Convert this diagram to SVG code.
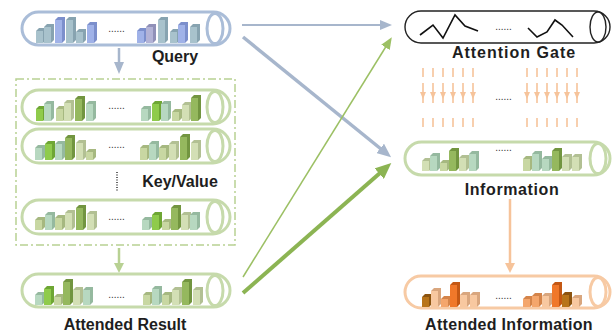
<svg xmlns="http://www.w3.org/2000/svg" xmlns:xlink="http://www.w3.org/1999/xlink" width="614" height="335" viewBox="0 0 614 335">
<defs>
<style>
.lbl{font-family:"Liberation Sans",Arial,sans-serif;font-weight:bold;font-size:16px;fill:#1e1e1e;text-anchor:middle}
.dots{font-family:"Liberation Sans",Arial,sans-serif;font-size:10px;fill:#333;text-anchor:middle}
.tb{fill:#fff;stroke:#aabdd8;stroke-width:3}
.tg{fill:#fff;stroke:#c6daab;stroke-width:3}
.to{fill:#fff;stroke:#f7caa4;stroke-width:3}
.tk{fill:#fff;stroke:#222;stroke-width:1.4}
.qt{fill:#a8c2cc}.qts{fill:#87a3b0}
.qp{fill:#a0b2e8}.qps{fill:#7c8fcc}
.ql{fill:#b3b3d6}.qls{fill:#9090b8}
.gb{fill:#8fcb4c}.gbs{fill:#6ea634}
.gt{fill:#b7d8c0}.gts{fill:#95b99f}
.gk{fill:#c8d7a2}.gks{fill:#a6b880}
.go{fill:#95b85e}.gos{fill:#729540}
.gp{fill:#d3dfb5}.gps{fill:#b2c093}
.ob{fill:#b8741a}.obs{fill:#8c5410}
.oo{fill:#f0782a}.oos{fill:#c45814}
.ol{fill:#f8c8a0}.ols{fill:#d9a67e}
.om{fill:#f4a66c}.oms{fill:#d4844a}
.zig{fill:none;stroke:#111;stroke-width:1.6;stroke-linejoin:miter}
.oa{stroke:#f6c39a;stroke-width:1.6;fill:none}
</style>
<marker id="mB" markerUnits="userSpaceOnUse" viewBox="0 0 12 10" markerWidth="12" markerHeight="10" refX="1" refY="5" orient="auto"><path d="M0,0 L12,5 L0,10 z" fill="#a7b6cc"/></marker>
<marker id="mBL" markerUnits="userSpaceOnUse" viewBox="0 0 14 12" markerWidth="14" markerHeight="12" refX="1" refY="6" orient="auto"><path d="M0,0 L14,6 L0,12 z" fill="#a7b6cc"/></marker>
<marker id="mG" markerUnits="userSpaceOnUse" viewBox="0 0 12 10" markerWidth="12" markerHeight="10" refX="1" refY="5" orient="auto"><path d="M0,0 L12,5 L0,10 z" fill="#9cc064"/></marker>
<marker id="mGL" markerUnits="userSpaceOnUse" viewBox="0 0 16 14" markerWidth="16" markerHeight="14" refX="1" refY="7" orient="auto"><path d="M0,0 L16,7 L0,14 z" fill="#8cb453"/></marker>
<marker id="mGV" markerUnits="userSpaceOnUse" viewBox="0 0 10 10" markerWidth="10" markerHeight="10" refX="1" refY="5" orient="auto"><path d="M0,0 L10,5 L0,10 z" fill="#b8d193"/></marker>
<marker id="mO" markerUnits="userSpaceOnUse" viewBox="0 0 10 10" markerWidth="10" markerHeight="10" refX="1" refY="5" orient="auto"><path d="M0,0 L10,5 L0,10 z" fill="#f6c39a"/></marker>
<g id="oarr">
<line class="oa" x1="0" y1="68" x2="0" y2="77"/>
<line class="oa" x1="0" y1="83" x2="0" y2="103"/>
<polygon points="-3,92 3,92 0,99" fill="#f6c39a"/>
<line class="oa" x1="0" y1="118" x2="0" y2="127"/>
</g>
</defs>
<rect width="614" height="335" fill="#fff"/>

<g id="connectors">
<line x1="242" y1="25" x2="381" y2="25" stroke="#a7b6cc" stroke-width="2" marker-end="url(#mB)"/>
<line x1="243" y1="37" x2="381" y2="149" stroke="#a7b6cc" stroke-width="3.5" marker-end="url(#mBL)"/>
<line x1="243" y1="277" x2="386" y2="46.5" stroke="#9cc064" stroke-width="1.5" marker-end="url(#mG)"/>
<line x1="243" y1="293" x2="380" y2="173" stroke="#8cb453" stroke-width="4" marker-end="url(#mGL)"/>
<line x1="119" y1="48" x2="119" y2="63" stroke="#a7b6cc" stroke-width="2.5" marker-end="url(#mB)"/>
<line x1="119" y1="248" x2="119" y2="264" stroke="#b8d193" stroke-width="2.5" marker-end="url(#mGV)"/>
<line x1="510" y1="199" x2="510" y2="264" stroke="#f6c39a" stroke-width="2.5" marker-end="url(#mO)"/>
</g>

<g id="query">
<rect class="tb" x="22" y="12" width="208" height="33" rx="16.5"/>
<ellipse class="tb" cx="215" cy="28.5" rx="8" ry="15"/>
<polygon class="qts" points="36,31 39,28 46,28 46,40 43,43"/><rect class="qt" x="36" y="31" width="7" height="12"/>
<polygon class="qts" points="44,27 47,24 54,24 54,40 51,43"/><rect class="qt" x="44" y="27" width="7" height="16"/>
<polygon class="qps" points="55,20 58,17 65,17 65,40 62,43"/><rect class="qp" x="55" y="20" width="7" height="23"/>
<polygon class="qts" points="66,20 69,17 76,17 76,40 73,43"/><rect class="qt" x="66" y="20" width="7" height="23"/>
<polygon class="qts" points="76,32 79,29 86,29 86,40 83,43"/><rect class="qt" x="76" y="32" width="7" height="11"/>
<polygon class="qps" points="87,25 90,22 97,22 97,40 94,43"/><rect class="qp" x="87" y="25" width="7" height="18"/>
<text class="dots" x="116.5" y="32">......</text>
<polygon class="qps" points="137,31 140,28 147,28 147,40 144,43"/><rect class="qp" x="137" y="31" width="7" height="12"/>
<polygon class="qls" points="146,27 149,24 156,24 156,40 153,43"/><rect class="ql" x="146" y="27" width="7" height="16"/>
<polygon class="qts" points="158,20 161,17 168,17 168,40 165,43"/><rect class="qt" x="158" y="20" width="7" height="23"/>
<polygon class="qts" points="170,32 173,29 180,29 180,40 177,43"/><rect class="qt" x="170" y="32" width="7" height="11"/>
<polygon class="qps" points="178,25 181,22 188,22 188,40 185,43"/><rect class="qp" x="178" y="25" width="7" height="18"/>
<polygon class="qts" points="190,27 193,24 200,24 200,40 197,43"/><rect class="qt" x="190" y="27" width="7" height="16"/>
<text class="lbl" x="175" y="62">Query</text>
</g>

<g id="keyvalue">
<rect x="16" y="79" width="219" height="166" fill="none" stroke="#b8d193" stroke-width="1.5" stroke-dasharray="8,3,2,3"/>
<rect class="tg" x="22" y="90" width="208" height="34" rx="17"/>
<ellipse class="tg" cx="215" cy="107" rx="8" ry="15.5"/>
<polygon class="gbs" points="36,109 39,106 46,106 46,118 43,121"/><rect class="gb" x="36" y="109" width="7" height="12"/>
<polygon class="gts" points="44,104 47,101 54,101 54,118 51,121"/><rect class="gt" x="44" y="104" width="7" height="17"/>
<polygon class="gks" points="56,109 59,106 66,106 66,118 63,121"/><rect class="gk" x="56" y="109" width="7" height="12"/>
<polygon class="gps" points="64,103 67,100 74,100 74,118 71,121"/><rect class="gp" x="64" y="103" width="7" height="18"/>
<polygon class="gos" points="75,99 78,96 85,96 85,118 82,121"/><rect class="go" x="75" y="99" width="7" height="22"/>
<polygon class="gts" points="86,104 89,101 96,101 96,118 93,121"/><rect class="gt" x="86" y="104" width="7" height="17"/>
<text class="dots" x="116.5" y="109">......</text>
<polygon class="gts" points="141,109 144,106 151,106 151,118 148,121"/><rect class="gt" x="141" y="109" width="7" height="12"/>
<polygon class="gbs" points="152,104 155,101 162,101 162,118 159,121"/><rect class="gb" x="152" y="104" width="7" height="17"/>
<polygon class="gts" points="161,104 164,101 171,101 171,118 168,121"/><rect class="gt" x="161" y="104" width="7" height="17"/>
<polygon class="gks" points="172,112 175,109 182,109 182,118 179,121"/><rect class="gk" x="172" y="112" width="7" height="9"/>
<polygon class="gps" points="182,105 185,102 192,102 192,118 189,121"/><rect class="gp" x="182" y="105" width="7" height="16"/>
<polygon class="gos" points="191,98 194,95 201,95 201,118 198,121"/><rect class="go" x="191" y="98" width="7" height="23"/>

<rect class="tg" x="22" y="129" width="208" height="34" rx="17"/>
<ellipse class="tg" cx="215" cy="146" rx="8" ry="15.5"/>
<polygon class="gts" points="35,148 38,145 45,145 45,157 42,160"/><rect class="gt" x="35" y="148" width="7" height="12"/>
<polygon class="gbs" points="45,144 48,141 55,141 55,157 52,160"/><rect class="gb" x="45" y="144" width="7" height="16"/>
<polygon class="gts" points="55,144 58,141 65,141 65,157 62,160"/><rect class="gt" x="55" y="144" width="7" height="16"/>
<polygon class="gos" points="65,138 68,135 75,135 75,157 72,160"/><rect class="go" x="65" y="138" width="7" height="22"/>
<polygon class="gps" points="76,143 79,140 86,140 86,157 83,160"/><rect class="gp" x="76" y="143" width="7" height="17"/>
<polygon class="gks" points="86,152 89,149 96,149 96,157 93,160"/><rect class="gk" x="86" y="152" width="7" height="8"/>
<text class="dots" x="116.5" y="148">......</text>
<polygon class="gks" points="140,148 143,145 150,145 150,157 147,160"/><rect class="gk" x="140" y="148" width="7" height="12"/>
<polygon class="gts" points="149,144 152,141 159,141 159,157 156,160"/><rect class="gt" x="149" y="144" width="7" height="16"/>
<polygon class="gks" points="159,148 162,145 169,145 169,157 166,160"/><rect class="gk" x="159" y="148" width="7" height="12"/>
<polygon class="gps" points="169,144 172,141 179,141 179,157 176,160"/><rect class="gp" x="169" y="144" width="7" height="16"/>
<polygon class="gos" points="180,137 183,134 190,134 190,157 187,160"/><rect class="go" x="180" y="137" width="7" height="23"/>
<polygon class="gps" points="191,143 194,140 201,140 201,157 198,160"/><rect class="gp" x="191" y="143" width="7" height="17"/>

<line x1="117" y1="172" x2="117" y2="192" stroke="#333" stroke-width="1.5" stroke-dasharray="1,1.5"/>
<text class="lbl" x="180" y="187">Key/Value</text>

<rect class="tg" x="22" y="200" width="208" height="34" rx="17"/>
<ellipse class="tg" cx="215" cy="217" rx="8" ry="15.5"/>
<polygon class="gks" points="35,220 38,217 45,217 45,227 42,230"/><rect class="gk" x="35" y="220" width="7" height="10"/>
<polygon class="gts" points="45,215 48,212 55,212 55,227 52,230"/><rect class="gt" x="45" y="215" width="7" height="15"/>
<polygon class="gks" points="55,218 58,215 65,215 65,227 62,230"/><rect class="gk" x="55" y="218" width="7" height="12"/>
<polygon class="gps" points="65,213 68,210 75,210 75,227 72,230"/><rect class="gp" x="65" y="213" width="7" height="17"/>
<polygon class="gos" points="76,208 79,205 86,205 86,227 83,230"/><rect class="go" x="76" y="208" width="7" height="22"/>
<polygon class="gps" points="87,214 90,211 97,211 97,227 94,230"/><rect class="gp" x="87" y="214" width="7" height="16"/>
<text class="dots" x="116.5" y="220">......</text>
<polygon class="gts" points="142,220 145,217 152,217 152,227 149,230"/><rect class="gt" x="142" y="220" width="7" height="10"/>
<polygon class="gbs" points="152,215 155,212 162,212 162,227 159,230"/><rect class="gb" x="152" y="215" width="7" height="15"/>
<polygon class="gks" points="162,222 165,219 172,219 172,227 169,230"/><rect class="gk" x="162" y="222" width="7" height="8"/>
<polygon class="gos" points="171,208 174,205 181,205 181,227 178,230"/><rect class="go" x="171" y="208" width="7" height="22"/>
<polygon class="gps" points="181,215 184,212 191,212 191,227 188,230"/><rect class="gp" x="181" y="215" width="7" height="15"/>
<polygon class="gts" points="190,215 193,212 200,212 200,227 197,230"/><rect class="gt" x="190" y="215" width="7" height="15"/>
</g>

<g id="attended-result">
<rect class="tg" x="22" y="274" width="208" height="33" rx="16.5"/>
<ellipse class="tg" cx="215" cy="290.5" rx="8" ry="15"/>
<polygon class="gts" points="35,295 38,292 45,292 45,302 42,305"/><rect class="gt" x="35" y="295" width="7" height="10"/>
<polygon class="gbs" points="44,289 47,286 54,286 54,302 51,305"/><rect class="gb" x="44" y="289" width="7" height="16"/>
<polygon class="gks" points="54,297 57,294 64,294 64,302 61,305"/><rect class="gk" x="54" y="297" width="7" height="8"/>
<polygon class="gos" points="63,282 66,279 73,279 73,302 70,305"/><rect class="go" x="63" y="282" width="7" height="23"/>
<polygon class="gps" points="73,290 76,287 83,287 83,302 80,305"/><rect class="gp" x="73" y="290" width="7" height="15"/>
<polygon class="gts" points="83,290 86,287 93,287 93,302 90,305"/><rect class="gt" x="83" y="290" width="7" height="15"/>
<text class="dots" x="116.5" y="298">......</text>
<polygon class="gks" points="143,295 146,292 153,292 153,302 150,305"/><rect class="gk" x="143" y="295" width="7" height="10"/>
<polygon class="gts" points="152,289 155,286 162,286 162,302 159,305"/><rect class="gt" x="152" y="289" width="7" height="16"/>
<polygon class="gks" points="162,295 165,292 172,292 172,302 169,305"/><rect class="gk" x="162" y="295" width="7" height="10"/>
<polygon class="gps" points="172,290 175,287 182,287 182,302 179,305"/><rect class="gp" x="172" y="290" width="7" height="15"/>
<polygon class="gos" points="182,282 185,279 192,279 192,302 189,305"/><rect class="go" x="182" y="282" width="7" height="23"/>
<polygon class="gps" points="193,290 196,287 203,287 203,302 200,305"/><rect class="gp" x="193" y="290" width="7" height="15"/>
<text class="lbl" x="125" y="330">Attended Result</text>
</g>

<g id="attention-gate">
<rect class="tk" x="405" y="11" width="205" height="32" rx="16"/>
<ellipse class="tk" cx="598" cy="27" rx="8" ry="15"/>
<polyline class="zig" points="420,35 433,25 443,38 455,15 465,26 478,31"/>
<text class="dots" x="503.5" y="30">......</text>
<polyline class="zig" points="528,28 537,37 547,32 555,20 562,25 573,37"/>
<text class="lbl" x="514" y="58" style="letter-spacing:1px">Attention Gate</text>
</g>

<g id="gate-arrows">
<use xlink:href="#oarr" x="423"/><use xlink:href="#oarr" x="433"/><use xlink:href="#oarr" x="443"/>
<use xlink:href="#oarr" x="453"/><use xlink:href="#oarr" x="463"/><use xlink:href="#oarr" x="473"/>
<text class="dots" x="503.5" y="100">......</text>
<use xlink:href="#oarr" x="527"/><use xlink:href="#oarr" x="537"/><use xlink:href="#oarr" x="547"/>
<use xlink:href="#oarr" x="557"/><use xlink:href="#oarr" x="567"/><use xlink:href="#oarr" x="577"/>
</g>

<g id="information">
<rect class="tg" x="405" y="142" width="205" height="33" rx="16.5"/>
<ellipse class="tg" cx="598" cy="158.5" rx="8" ry="15"/>
<polygon class="gps" points="422,161 425,158 432,158 432,168 429,171"/><rect class="gp" x="422" y="161" width="7" height="10"/>
<polygon class="gts" points="430,156 433,153 440,153 440,168 437,171"/><rect class="gt" x="430" y="156" width="7" height="15"/>
<polygon class="gks" points="440,163 443,160 450,160 450,168 447,171"/><rect class="gk" x="440" y="163" width="7" height="8"/>
<polygon class="gos" points="449,151 452,148 459,148 459,168 456,171"/><rect class="go" x="449" y="151" width="7" height="20"/>
<polygon class="gps" points="459,158 462,155 469,155 469,168 466,171"/><rect class="gp" x="459" y="158" width="7" height="13"/>
<polygon class="gts" points="469,154 472,151 479,151 479,168 476,171"/><rect class="gt" x="469" y="154" width="7" height="17"/>
<text class="dots" x="503.5" y="151">......</text>
<polygon class="gks" points="523,159 526,156 533,156 533,168 530,171"/><rect class="gk" x="523" y="159" width="7" height="12"/>
<polygon class="gts" points="532,154 535,151 542,151 542,168 539,171"/><rect class="gt" x="532" y="154" width="7" height="17"/>
<polygon class="gts" points="542,159 545,156 552,156 552,168 549,171"/><rect class="gt" x="542" y="159" width="7" height="12"/>
<polygon class="gos" points="552,151 555,148 562,148 562,168 559,171"/><rect class="go" x="552" y="151" width="7" height="20"/>
<polygon class="gps" points="562,157 565,154 572,154 572,168 569,171"/><rect class="gp" x="562" y="157" width="7" height="14"/>
<polygon class="gps" points="572,157 575,154 582,154 582,168 579,171"/><rect class="gp" x="572" y="157" width="7" height="14"/>
<text class="lbl" x="512" y="195" style="letter-spacing:0.6px">Information</text>
</g>

<g id="attended-information">
<rect class="to" x="405" y="276" width="205" height="32" rx="16"/>
<ellipse class="to" cx="598" cy="292" rx="8" ry="14.5"/>
<polygon class="obs" points="422,297 425,294 432,294 432,304 429,307"/><rect class="ob" x="422" y="297" width="7" height="10"/>
<polygon class="ols" points="431,291 434,288 441,288 441,304 438,307"/><rect class="ol" x="431" y="291" width="7" height="16"/>
<polygon class="oms" points="441,299 444,296 451,296 451,304 448,307"/><rect class="om" x="441" y="299" width="7" height="8"/>
<polygon class="oos" points="450,285 453,282 460,282 460,304 457,307"/><rect class="oo" x="450" y="285" width="7" height="22"/>
<polygon class="ols" points="460,295 463,292 470,292 470,304 467,307"/><rect class="ol" x="460" y="295" width="7" height="12"/>
<polygon class="ols" points="470,295 473,292 480,292 480,304 477,307"/><rect class="ol" x="470" y="295" width="7" height="12"/>
<text class="dots" x="503.5" y="299">......</text>
<polygon class="oms" points="523,299 526,296 533,296 533,304 530,307"/><rect class="om" x="523" y="299" width="7" height="8"/>
<polygon class="oms" points="532,296 535,293 542,293 542,304 539,307"/><rect class="om" x="532" y="296" width="7" height="11"/>
<polygon class="ols" points="542,296 545,293 552,293 552,304 549,307"/><rect class="ol" x="542" y="296" width="7" height="11"/>
<polygon class="oos" points="552,285 555,282 562,282 562,304 559,307"/><rect class="oo" x="552" y="285" width="7" height="22"/>
<polygon class="obs" points="562,295 565,292 572,292 572,304 569,307"/><rect class="ob" x="562" y="295" width="7" height="12"/>
<polygon class="ols" points="572,298 575,295 582,295 582,304 579,307"/><rect class="ol" x="572" y="298" width="7" height="9"/>
<text class="lbl" x="509" y="330" style="letter-spacing:0.3px">Attended Information</text>
</g>
</svg>
